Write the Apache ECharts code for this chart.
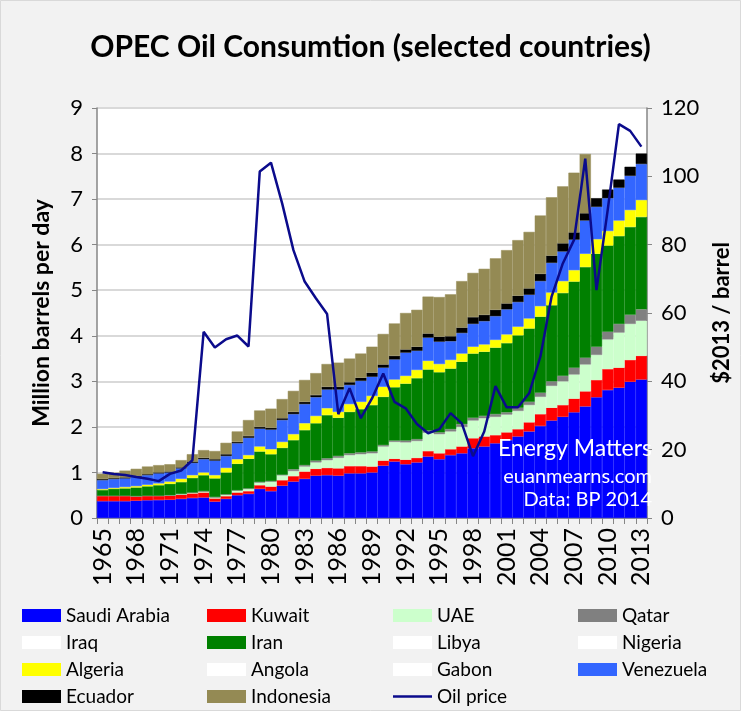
<!DOCTYPE html>
<html>
<head>
<meta charset="utf-8">
<script src="https://cdn.jsdelivr.net/npm/echarts@6/dist/echarts.min.js"></script>
<style>
html,body{margin:0;padding:0;background:#f2f2f2;}
#chart{width:741px;height:711px;}
</style>
</head>
<body>
<div id="chart"></div>
<script>
const years = [];
for (let y = 1965; y <= 2013; y++) years.push(String(y));

const saudi = [0.37,0.37,0.37,0.38,0.39,0.395,0.40,0.42,0.44,0.45, 0.36,0.42,0.50,0.53,0.64,0.59,0.71,0.80,0.86,0.93, 0.94,0.93,0.98,0.98,1.00,1.15,1.24,1.18,1.22,1.35, 1.29,1.38,1.42,1.53,1.57,1.64,1.71,1.79,1.90,2.02, 2.14,2.22,2.32,2.45,2.65,2.81,2.86,2.99,3.04];
const kuwait = [0.12,0.12,0.12,0.10,0.10,0.095,0.09,0.09,0.10,0.11, 0.07,0.06,0.06,0.06,0.08,0.10,0.12,0.12,0.16,0.15, 0.16,0.16,0.16,0.16,0.13,0.11,0.06,0.10,0.10,0.12, 0.13,0.13,0.15,0.22,0.22,0.18,0.17,0.16,0.20,0.26, 0.28,0.26,0.30,0.33,0.38,0.46,0.44,0.48,0.52];
const uae = [0,0,0,0,0,0,0.01,0.02,0.02,0.02, 0.02,0.03,0.04,0.05,0.06,0.11,0.11,0.11,0.11,0.14, 0.17,0.23,0.24,0.26,0.29,0.31,0.37,0.38,0.37,0.40, 0.42,0.39,0.43,0.39,0.40,0.40,0.39,0.40,0.38,0.38, 0.48,0.52,0.53,0.59,0.55,0.65,0.77,0.79,0.77];
const qatar = [0,0,0,0,0,0,0,0,0,0.01, 0.01,0.01,0.01,0.01,0.01,0.01,0.01,0.04,0.03,0.04, 0.04,0.04,0.04,0.04,0.04,0.03,0.03,0.04,0.04,0.05, 0.04,0.05,0.06,0.06,0.05,0.06,0.05,0.07,0.07,0.09, 0.10,0.12,0.15,0.15,0.18,0.17,0.19,0.20,0.25];
const iraq = [];
const iran = [0.125,0.15,0.16,0.19,0.205,0.23,0.25,0.26,0.32,0.35, 0.41,0.48,0.58,0.65,0.67,0.59,0.59,0.64,0.77,0.82, 0.95,0.84,0.91,0.95,1.02,1.06,1.17,1.25,1.34,1.34, 1.32,1.33,1.37,1.41,1.41,1.46,1.52,1.59,1.61,1.67, 1.67,1.82,1.89,1.99,2.04,1.89,1.93,1.93,2.03];
const libya = [];
const nigeria = [];
const algeria = [0.02,0.02,0.03,0.03,0.035,0.04,0.05,0.07,0.06,0.06, 0.07,0.10,0.10,0.08,0.11,0.11,0.13,0.13,0.15,0.16, 0.15,0.13,0.17,0.16,0.20,0.22,0.17,0.17,0.18,0.19, 0.18,0.19,0.18,0.15,0.16,0.17,0.19,0.19,0.22,0.23, 0.28,0.26,0.25,0.29,0.32,0.32,0.34,0.37,0.37];
const angola = [];
const gabon = [];
const venezuela = [0.195,0.195,0.19,0.21,0.21,0.22,0.20,0.23,0.27,0.29, 0.32,0.26,0.35,0.38,0.39,0.43,0.48,0.44,0.42,0.41, 0.41,0.49,0.42,0.46,0.42,0.42,0.44,0.51,0.42,0.51, 0.49,0.41,0.45,0.50,0.51,0.52,0.55,0.54,0.52,0.55, 0.65,0.65,0.67,0.73,0.71,0.72,0.72,0.75,0.79];
const ecuador = [0.025,0.02,0.02,0.02,0.02,0.02,0.02,0.02,0.03,0.03, 0.03,0.04,0.03,0.04,0.04,0.04,0.04,0.05,0.05,0.05, 0.06,0.06,0.06,0.07,0.09,0.07,0.08,0.07,0.09,0.09, 0.11,0.11,0.12,0.15,0.14,0.14,0.13,0.14,0.14,0.16, 0.16,0.18,0.16,0.16,0.19,0.19,0.18,0.20,0.23];
const indonesia = [0.115,0.12,0.15,0.15,0.17,0.16,0.16,0.16,0.16,0.17, 0.18,0.25,0.23,0.35,0.36,0.42,0.42,0.46,0.48,0.48, 0.50,0.53,0.52,0.53,0.57,0.67,0.71,0.80,0.81,0.81, 0.87,0.92,1.02,0.97,1.01,1.13,1.17,1.22,1.24,1.28, 1.28,1.25,1.31,1.30,null,null,null,null,null];
const oilPrice = [13.4,12.9,12.6,12.0,11.5,10.8,12.9,13.9,16.9,54.5, 49.9,52.3,53.4,50.2,101.4,104.0,92.0,78.4,69.2,64.3, 59.7,30.4,38.0,29.2,35.0,42.3,34.0,32.1,27.5,24.8, 26.0,30.7,27.7,18.1,25.3,38.6,32.4,32.4,36.5,47.2, 64.8,74.5,81.4,105.2,66.7,90.2,115.3,113.3,108.7];

const leftTicks = [0,1,2,3,4,5,6,7,8,9];
const rightTicks = [0,20,40,60,80,100,120];

const countries = [
  ['Saudi Arabia', saudi, '#0000ff'],
  ['Kuwait', kuwait, '#ff0000'],
  ['UAE', uae, '#ccffcc'],
  ['Qatar', qatar, '#808080'],
  ['Iraq', iraq, '#ffffff'],
  ['Iran', iran, '#008000'],
  ['Libya', libya, '#ffffff'],
  ['Nigeria', nigeria, '#ffffff'],
  ['Algeria', algeria, '#ffff00'],
  ['Angola', angola, '#ffffff'],
  ['Gabon', gabon, '#ffffff'],
  ['Venezuela', venezuela, '#3366ff'],
  ['Ecuador', ecuador, '#000000'],
  ['Indonesia', indonesia, '#948a54']
];

const FONT = 'Lato, "Open Sans", sans-serif';
const series = countries.map(([name, data, color]) => ({
  name, type: 'bar', stack: 'opec', data,
  barCategoryGap: '0%',
  itemStyle: { color, borderColor: color, borderWidth: color === '#ffffff' ? 0 : 0.5 },
  emphasis: { disabled: true },
  z: 2
}));
series.push({
  name: 'Oil price', type: 'line', yAxisIndex: 1, data: oilPrice,
  symbol: 'none', lineStyle: { color: '#0b0b8c', width: 2.5 }, itemStyle: { color: '#0b0b8c' },
  emphasis: { disabled: true }, z: 5
});

function leg(left, names) {
  return {
    orient: 'vertical', left, top: 606, itemGap: 8, itemWidth: 39, itemHeight: 13,
    padding: 0, itemStyle: { borderWidth: 0 },
    selectedMode: false,
    textStyle: { fontFamily: FONT, fontSize: 19, color: '#000', lineHeight: 19 },
    data: names.map(n => n === 'Oil price'
      ? { name: n, icon: 'path://M0,0L40,0L40,2.6L0,2.6Z' }
      : { name: n, icon: 'rect' })
  };
}

const chart = echarts.init(document.getElementById('chart'), null, { renderer: 'canvas' });
chart.setOption({
  backgroundColor: '#f2f2f2',
  animation: false,
  title: {
    text: 'OPEC Oil Consumtion (selected countries)', left: 'center', top: 27,
    textStyle: { fontFamily: FONT, fontWeight: 'bold', fontSize: 30, color: '#000' }
  },
  grid: { left: 97, right: 84, top: 108, bottom: 193, show: true, backgroundColor: '#ffffff', borderWidth: 0 },
  legend: [
    leg(22, ['Saudi Arabia', 'Iraq', 'Algeria', 'Ecuador']),
    leg(207, ['Kuwait', 'Iran', 'Angola', 'Indonesia']),
    leg(393, ['UAE', 'Libya', 'Gabon', 'Oil price']),
    leg(578, ['Qatar', 'Nigeria', 'Venezuela'])
  ],
  xAxis: {
    type: 'category', data: years, boundaryGap: true,
    axisLine: { lineStyle: { color: '#868686', width: 1.5 } },
    axisTick: { show: true, interval: 0, length: 6, lineStyle: { color: '#868686' } },
    axisLabel: { interval: 2, rotate: 90, margin: 10, fontFamily: FONT, fontSize: 25, color: '#000' },
    splitLine: { show: false }
  },
  yAxis: [
    {
      type: 'value', min: leftTicks[0], max: leftTicks[leftTicks.length - 1], interval: 1,
      name: 'Million barrels per day', nameLocation: 'middle', nameGap: 44, nameRotate: 90,
      nameTextStyle: { fontFamily: FONT, fontWeight: 'bold', fontSize: 23, color: '#000' },
      axisLine: { show: true, lineStyle: { color: '#868686', width: 1.5 } },
      axisTick: { show: true, length: 5, lineStyle: { color: '#868686' } },
      axisLabel: { margin: 14, fontFamily: FONT, fontSize: 22, color: '#000' },
      splitLine: { show: true, lineStyle: { color: '#d9d9d9', width: 2 } }
    },
    {
      type: 'value', min: rightTicks[0], max: rightTicks[rightTicks.length - 1], interval: 20,
      position: 'right',
      name: '$2013 / barrel', nameLocation: 'middle', nameGap: 64, nameRotate: 90,
      nameTextStyle: { fontFamily: FONT, fontWeight: 'bold', fontSize: 22, color: '#000' },
      axisLine: { show: true, lineStyle: { color: '#868686', width: 1.5 } },
      axisTick: { show: true, length: 5, lineStyle: { color: '#868686' } },
      axisLabel: { margin: 14, fontFamily: FONT, fontSize: 22, color: '#000' },
      splitLine: { show: false }
    }
  ],
  graphic: [
    { type: 'rect', shape: { x: 0.5, y: 0.5, width: 740, height: 710 }, style: { fill: 'none', stroke: '#d9d9d9', lineWidth: 1 }, silent: true },
    { type: 'text', x: 652, y: 449, z: 10, style: { text: 'Energy Matters', align: 'right', verticalAlign: 'middle', fill: '#ffffff', font: '23px ' + FONT } },
    { type: 'text', x: 652, y: 477, z: 10, style: { text: 'euanmearns.com', align: 'right', verticalAlign: 'middle', fill: '#ffffff', font: '20px ' + FONT } },
    { type: 'text', x: 652, y: 500, z: 10, style: { text: 'Data: BP 2014', align: 'right', verticalAlign: 'middle', fill: '#ffffff', font: '20px ' + FONT } }
  ],
  series
});
</script>
</body>
</html>
